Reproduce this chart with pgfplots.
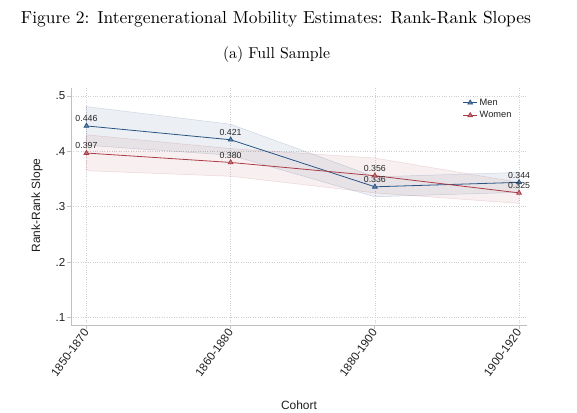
\documentclass[border=0pt]{standalone}
\usepackage{pgfplots}
\pgfplotsset{compat=1.18}
\usepackage{fontspec}
\newfontfamily\arial{Liberation Sans}
\definecolor{menc}{RGB}{40,84,132}
\definecolor{womc}{RGB}{170,60,70}
\definecolor{axc}{RGB}{192,192,192}
\begin{document}
\begin{tikzpicture}
\path[use as bounding box] (0,0) rectangle (577bp,-413bp);
\node[inner sep=0pt] at (276bp,-19bp) {\resizebox{510bp}{!}{Figure 2: Intergenerational Mobility Estimates: Rank-Rank Slopes}};
\node[inner sep=0pt] at (276.5bp,-55bp) {\resizebox{107bp}{!}{(a) Full Sample}};
\begin{axis}[
  at={(71bp,-325bp)}, anchor=south west,
  scale only axis, width=456bp, height=237bp,
  xmin=-0.107, xmax=3.055, ymin=0.0863, ymax=0.5145,
  axis x line*=bottom, axis y line*=left,
  axis line style={axc, line width=0.8pt},
  xtick={0,1,2,3}, xticklabels={1850-1870,1860-1880,1880-1900,1900-1920},
  ytick={0.1,0.2,0.3,0.4,0.5}, yticklabels={.1,.2,.3,.4,.5},
  tick align=outside, major tick length=4bp,
  tick style={axc, line width=0.8pt},
  grid=major, major grid style={gray!38, dotted, line width=0.6pt},
  ticklabel style={font=\arial\fontsize{11.6}{13}\selectfont, text=black!88},
  xticklabel style={rotate=54, anchor=east, inner sep=1pt, yshift=-0.5bp},
  yticklabel style={inner sep=1.5pt},
  legend style={at={(0.852,0.972)}, anchor=north west, draw=none, fill=none,
    font=\arial\fontsize{9.3}{11}\selectfont, row sep=0.8pt, text=black!88},
  legend cell align=left,
  legend image code/.code={\draw[mark repeat=2,mark phase=2] plot coordinates {(0cm,0cm)(0.25cm,0cm)(0.5cm,0cm)};},
]
% Men CI band
\addplot[fill=menc, fill opacity=0.09, draw=menc, draw opacity=0.2, line width=0.5pt, forget plot]
  coordinates {(0,0.481) (1,0.449) (2,0.354) (3,0.362) (3,0.326) (2,0.318) (1,0.393) (0,0.411)} -- cycle;
% Women CI band
\addplot[fill=womc, fill opacity=0.08, draw=womc, draw opacity=0.18, line width=0.5pt, forget plot]
  coordinates {(0,0.430) (1,0.405) (2,0.388) (3,0.344) (3,0.306) (2,0.325) (1,0.355) (0,0.365)} -- cycle;
% Lines
\addplot[menc, line width=0.8pt, mark=triangle*, mark size=2.7pt, mark options={fill=menc!70!white, solid},
  nodes near coords, point meta=explicit symbolic,
  every node near coord/.style={font=\arial\fontsize{8.8}{10}\selectfont, anchor=south, inner sep=0.5pt, yshift=3.3pt, text=black!85}]
  coordinates {(0,0.446) [0.446] (1,0.421) [0.421] (2,0.336) [0.336] (3,0.344) [0.344]};
\addlegendentry{Men}
\addplot[womc, line width=0.8pt, mark=triangle*, mark size=2.7pt, mark options={fill=womc!70!white, solid},
  nodes near coords, point meta=explicit symbolic,
  every node near coord/.style={font=\arial\fontsize{8.8}{10}\selectfont, anchor=south, inner sep=0.5pt, yshift=3.3pt, text=black!85}]
  coordinates {(0,0.397) [0.397] (1,0.380) [0.380] (2,0.356) [0.356] (3,0.325) [0.325]};
\addlegendentry{Women}
\end{axis}
\node[font=\arial\fontsize{12}{14}\selectfont, rotate=90, text=black!88] at (37bp,-205.5bp) {Rank-Rank Slope};
\node[font=\arial\fontsize{12}{14}\selectfont, text=black!88] at (299bp,-405bp) {Cohort};
\end{tikzpicture}
\end{document}
